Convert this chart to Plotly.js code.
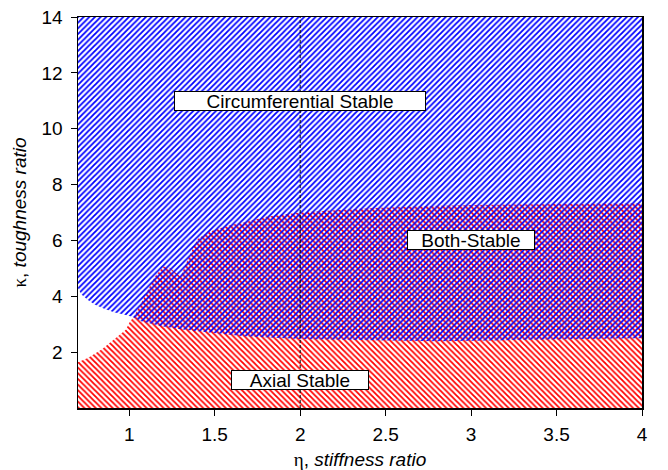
<!DOCTYPE html>
<html>
<head>
<meta charset="utf-8">
<script src="https://cdn.plot.ly/plotly-3.0.1.min.js"></script>
<style>
  html, body { margin: 0; padding: 0; background: #fff; }
  #chart { width: 668px; height: 470px; }
</style>
</head>
<body>
<div id="chart"></div>
<script>
// Circumferential-stable region: lower boundary (region extends up to kappa = 14)
const circEta   = [0.7, 0.72, 0.76, 0.8, 0.85, 0.91, 0.97, 1.02, 1.07, 1.19, 1.3, 1.46, 1.67, 2.0, 2.4, 2.8, 3.2, 3.6, 4.0];
const circKappa = [4.3, 4.06, 3.86, 3.70, 3.56, 3.43, 3.35, 3.26, 3.11, 2.93, 2.82, 2.71, 2.57, 2.47, 2.42, 2.39, 2.43, 2.47, 2.5];
const circTop = 14;

// Axial-stable region: upper boundary (region extends down to kappa = 0)
const axialEta   = [0.7, 0.76, 0.84, 0.9, 0.94, 0.98, 1.0, 1.03, 1.09, 1.15, 1.2, 1.24, 1.27, 1.3, 1.35, 1.4, 1.45, 1.5, 1.6, 1.67, 1.8, 2.0, 2.2, 2.43, 2.7, 3.0, 3.5, 4.0];
const axialKappa = [1.64, 1.8, 2.1, 2.4, 2.57, 2.8, 3.05, 3.3, 4.0, 4.71, 5.07, 5.01, 4.85, 4.71, 5.43, 6.05, 6.25, 6.38, 6.56, 6.64, 6.85, 7.0, 7.08, 7.16, 7.22, 7.27, 7.3, 7.33];
const axialBottom = 0;

// Region labels
const labelText  = ['Circumferential Stable', 'Both-Stable', 'Axial Stable'];
const labelEta   = [2.0, 3.0, 2.0];
const labelKappa = [11.0, 6.0, 1.0];
const labelWidth = [250, 126, 136];

// Reference line
const refEta = 2;

// Ticks
const xTicks = [1, 1.5, 2, 2.5, 3, 3.5, 4];
const xTickText = ['1', '1.5', '2', '2.5', '3', '3.5', '4'];
const yTicks = [2, 4, 6, 8, 10, 12, 14];
const yTickText = ['2', '4', '6', '8', '10', '12', '14'];

function polygon(xs, ys, closeY) {
  const px = xs.concat(xs.slice().reverse());
  const py = ys.concat(xs.map(() => closeY));
  return { x: px, y: py };
}

const circPoly = polygon(circEta, circKappa, circTop);
const axialPoly = polygon(axialEta, axialKappa, axialBottom);

const traces = [
  {
    type: 'scatter', mode: 'lines', x: axialPoly.x, y: axialPoly.y,
    fill: 'toself', line: { width: 0, color: 'rgba(0,0,0,0)' },
    fillcolor: 'rgba(0,0,0,0)',
    fillpattern: { shape: '\\', fgcolor: '#ff0000', bgcolor: 'rgba(0,0,0,0)', size: 4, solidity: 0.45 },
    hoverinfo: 'skip', showlegend: false
  },
  {
    type: 'scatter', mode: 'lines', x: circPoly.x, y: circPoly.y,
    fill: 'toself', line: { width: 0, color: 'rgba(0,0,0,0)' },
    fillcolor: 'rgba(0,0,0,0)',
    fillpattern: { shape: '/', fgcolor: '#0000ff', bgcolor: 'rgba(0,0,0,0)', size: 4, solidity: 0.45 },
    hoverinfo: 'skip', showlegend: false
  }
];

const annotations = labelText.map((t, i) => ({
  x: labelEta[i], y: labelKappa[i], xref: 'x', yref: 'y',
  text: t, showarrow: false,
  font: { family: 'Liberation Sans, Arial, sans-serif', size: 19, color: '#000' },
  bgcolor: '#ffffff', bordercolor: '#000000', borderwidth: 1, borderpad: 0,
  width: labelWidth[i], height: 18, align: 'center'
}));

const layout = {
  width: 668, height: 470,
  margin: { l: 78, r: 26, t: 17, b: 62 },
  paper_bgcolor: '#ffffff', plot_bgcolor: '#ffffff',
  font: { family: 'Liberation Sans, Arial, sans-serif', size: 19, color: '#000' },
  showlegend: false,
  xaxis: {
    range: [0.7, 4], tickvals: xTicks, ticktext: xTickText,
    showgrid: false, zeroline: false,
    showline: true, mirror: true, linecolor: '#000', linewidth: 1.5,
    ticks: 'outside', ticklen: 6, tickcolor: '#000', tickwidth: 1,
    tickfont: { size: 19 }, ticklabelstandoff: 3,
    title: { text: '<span style="font-family:\'Liberation Serif\', serif">η</span>, <i>stiffness ratio</i>', font: { size: 19 }, standoff: 8 }
  },
  yaxis: {
    range: [0, 14], tickvals: yTicks, ticktext: yTickText,
    showgrid: false, zeroline: false,
    showline: true, mirror: true, linecolor: '#000', linewidth: 1.5,
    ticks: 'outside', ticklen: 6, tickcolor: '#000', tickwidth: 1,
    tickfont: { size: 19 }, ticklabelstandoff: 4,
    title: { text: '<span style="font-family:\'Liberation Serif\', serif">κ</span>, <i>toughness ratio</i>', font: { size: 19 }, standoff: 10 }
  },
  shapes: [{
    type: 'line', xref: 'x', yref: 'paper', x0: refEta, x1: refEta, y0: 0, y1: 1,
    line: { color: '#000', width: 1, dash: '3px,2px' }, layer: 'above'
  }],
  annotations: annotations
};

Plotly.newPlot('chart', traces, layout, { staticPlot: true, displayModeBar: false });
</script>
</body>
</html>
